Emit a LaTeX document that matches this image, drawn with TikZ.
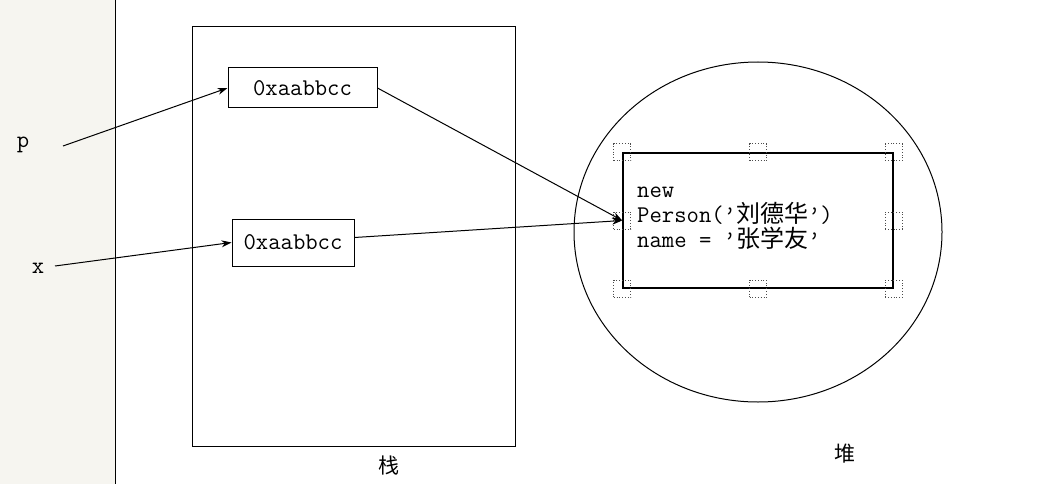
\documentclass[tikz,border=0pt]{standalone}
\usepackage{fontspec}
\newfontfamily\cjk{Noto Sans CJK SC}
\usetikzlibrary{arrows.meta,shapes.geometric,calc}
\definecolor{stripgray}{HTML}{F6F5F0}
\tikzset{
  line/.style={draw=black,line width=1pt},
  arr/.style={line,-{Stealth[length=10pt,width=7pt]}},
  mono/.style={font=\ttfamily\fontsize{24}{25}\selectfont},
  addrbox/.style={draw=black,line width=1pt,inner sep=0pt,mono},
  handle/.style={draw=black!70,dotted,line width=0.8pt,minimum size=17pt,inner sep=0pt},
  lbl/.style={inner sep=0pt,font=\ttfamily\fontsize{24}{24}\selectfont},
  cjklbl/.style={inner sep=0pt,font=\cjk\fontsize{21}{24}\selectfont}
}
\begin{document}
\begin{tikzpicture}[x=1pt,y=-1pt]
\useasboundingbox (0,0) rectangle (1056,484);
\fill[white] (0,0) rectangle (1056,484);
\fill[stripgray] (0,0) rectangle (115,484);
\coordinate (stripTop) at (115,0);
\coordinate (stripBot) at (115,484);
\draw[line] (stripTop) -- (stripBot);

% stack
\node[draw=black,line width=1pt,minimum width=323pt,minimum height=419pt,inner sep=0pt] (stack) at (353.5,236.5) {};
\node[cjklbl] (stacklbl) at (389,466) {栈};

% address boxes
\node[addrbox,minimum width=149pt,minimum height=40pt] (b1) at (302.5,88) {0xaabbcc};
\node[addrbox,minimum width=122pt,minimum height=47pt] (b2) at (293,242.5) {0xaabbcc};

% variables
\node[lbl] (p) at (23,145) {p};
\node[lbl] (x) at (38,268) {x};
\coordinate (pstart) at (63,146);
\coordinate (xstart) at (55,266);

% heap
\node[draw=black,line width=1pt,ellipse,minimum width=368pt,minimum height=340pt,inner sep=0pt] (heap) at (758,232) {};
\node[cjklbl] (heaplbl) at (845,454) {堆};

% object
\node[draw=black,line width=1.5pt,minimum width=270pt,minimum height=135pt,inner sep=0pt] (obj) at (758,220.5) {};
\node[anchor=west,align=left,inner sep=0pt,mono] (objtext) at (637,218)
  {new\\Person(’{\cjk 刘德华}’)\\name = ’{\cjk 张学友}’};

% selection handles
\foreach \a/\n in {north west/h1,north/h2,north east/h3,west/h4,east/h5,south west/h6,south/h7,south east/h8}{
  \node[handle] (\n) at (obj.\a) {};
}

% connectors
\draw[arr] (pstart) -- (b1.west);
\draw[arr] (xstart) -- (b2.west);
\draw[arr] (b1.east) -- (obj.west);
\draw[arr] ([yshift=5pt]b2.east) -- (obj.west);
\end{tikzpicture}
\end{document}
